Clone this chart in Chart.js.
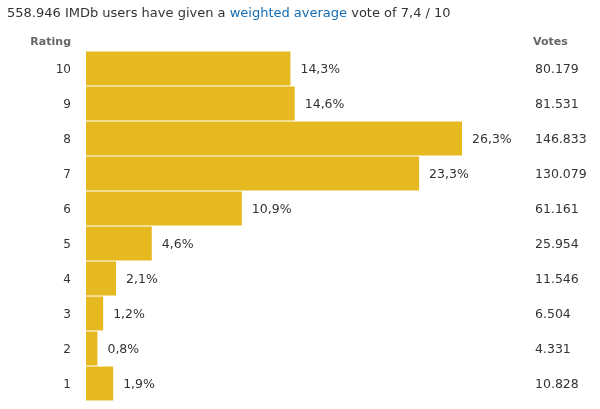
<!DOCTYPE html>
<html>
<head>
<meta charset="utf-8">
<script src="https://cdn.jsdelivr.net/npm/chart.js@4"></script>
<style>
  html, body { margin: 0; padding: 0; background: #fff; }
  #wrap { width: 600px; height: 409px; }
</style>
</head>
<body>
<div id="wrap"><canvas id="chart" width="600" height="409"></canvas></div>
<script>
// data
const ratings = ['10', '9', '8', '7', '6', '5', '4', '3', '2', '1'];
const percents = [14.3, 14.6, 26.3, 23.3, 10.9, 4.6, 2.1, 1.2, 0.8, 1.9];
const votes = ['80.179', '81.531', '146.833', '130.079', '61.161', '25.954', '11.546', '6.504', '4.331', '10.828'];
const totalVotes = '558.946';
const average = '7,4';

const FONT = '"DejaVu Sans", Verdana, sans-serif';
const TEXT = '#333';
const BAR = '#e5b91f';

// title line + column headers
const headerPlugin = {
    id: 'header',
    afterDraw(chart) {
        const ctx = chart.ctx;
        ctx.save();
        ctx.font = '13px ' + FONT;
        ctx.textBaseline = 'middle';
        ctx.textAlign = 'left';
        const parts = [
            [totalVotes + ' IMDb users have given a ', TEXT],
            ['weighted average', '#136cb2'],
            [' vote of ' + average + ' / 10', TEXT],
        ];
        let x = 7;
        parts.forEach(([t, c]) => {
            ctx.fillStyle = c;
            ctx.fillText(t, x, 14);
            x += ctx.measureText(t).width;
        });

        ctx.font = 'bold 11px ' + FONT;
        ctx.fillStyle = '#666';
        ctx.textAlign = 'right';
        ctx.fillText('Rating', 71, 42);
        ctx.textAlign = 'left';
        ctx.fillText('Votes', 533, 42);
        ctx.restore();
    }
};

// percentage next to each bar, votes in the right column
const labelPlugin = {
    id: 'labels',
    afterDatasetsDraw(chart) {
        const ctx = chart.ctx;
        const meta = chart.getDatasetMeta(0);
        ctx.save();
        ctx.font = '12.5px ' + FONT;
        ctx.fillStyle = TEXT;
        ctx.textAlign = 'left';
        ctx.textBaseline = 'middle';
        meta.data.forEach((bar, i) => {
            ctx.fillText(percents[i].toFixed(1).replace('.', ',') + '%', bar.x + 10, bar.y + 1);
            ctx.fillText(votes[i], 535, bar.y + 1);
        });
        ctx.restore();
    }
};

new Chart(document.getElementById('chart'), {
    type: 'bar',
    data: {
        labels: ratings,
        datasets: [{
            data: percents,
            backgroundColor: BAR,
            barPercentage: 0.97,
            categoryPercentage: 1,
        }]
    },
    options: {
        indexAxis: 'y',
        responsive: false,
        animation: false,
        layout: { padding: { top: 51, bottom: 8, left: 0, right: 138 } },
        plugins: { legend: { display: false }, tooltip: { enabled: false } },
        scales: {
            x: { display: false, min: 0, max: 26.3 },
            y: {
                grid: { display: false, drawTicks: false },
                border: { display: false },
                ticks: { color: TEXT, font: { family: FONT, size: 12 }, padding: 15, labelOffset: 1.5 },
                afterFit(scale) {
                    scale.width = 86;
                    scale.paddingTop = 0;
                    scale.paddingBottom = 0;
                },
            }
        }
    },
    plugins: [headerPlugin, labelPlugin]
});
</script>
</body>
</html>
